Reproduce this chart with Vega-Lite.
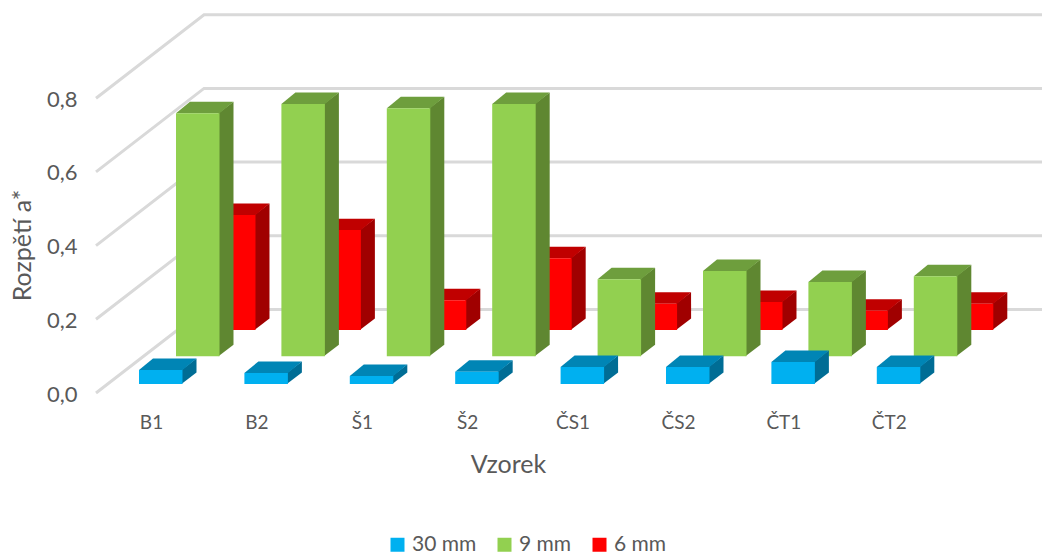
{
"$schema":"https://vega.github.io/schema/vega-lite/v6.json",
"width":946,"height":380,"autosize":"none",
"padding":{"left":96,"top":13,"right":0,"bottom":161},
"background":"white",
"config":{"font":"Lato","view":{"stroke":null},"axis":{"grid":false,"domain":false,"ticks":false}},
"resolve":{"axis":{"x":"independent","y":"independent"}},
"datasets":{
"mereni":[
{"vzorek":"B1","rada":"30 mm","hodnota":0.038},{"vzorek":"B2","rada":"30 mm","hodnota":0.030},{"vzorek":"Š1","rada":"30 mm","hodnota":0.022},{"vzorek":"Š2","rada":"30 mm","hodnota":0.033},{"vzorek":"ČS1","rada":"30 mm","hodnota":0.046},{"vzorek":"ČS2","rada":"30 mm","hodnota":0.046},{"vzorek":"ČT1","rada":"30 mm","hodnota":0.060},{"vzorek":"ČT2","rada":"30 mm","hodnota":0.046},
{"vzorek":"B1","rada":"9 mm","hodnota":0.659},{"vzorek":"B2","rada":"9 mm","hodnota":0.684},{"vzorek":"Š1","rada":"9 mm","hodnota":0.673},{"vzorek":"Š2","rada":"9 mm","hodnota":0.684},{"vzorek":"ČS1","rada":"9 mm","hodnota":0.209},{"vzorek":"ČS2","rada":"9 mm","hodnota":0.231},{"vzorek":"ČT1","rada":"9 mm","hodnota":0.201},{"vzorek":"ČT2","rada":"9 mm","hodnota":0.217},
{"vzorek":"B1","rada":"6 mm","hodnota":0.312},{"vzorek":"B2","rada":"6 mm","hodnota":0.271},{"vzorek":"Š1","rada":"6 mm","hodnota":0.081},{"vzorek":"Š2","rada":"6 mm","hodnota":0.195},{"vzorek":"ČS1","rada":"6 mm","hodnota":0.071},{"vzorek":"ČS2","rada":"6 mm","hodnota":0.076},{"vzorek":"ČT1","rada":"6 mm","hodnota":0.052},{"vzorek":"ČT2","rada":"6 mm","hodnota":0.071}
],
"mrizka":[{"v":0},{"v":0.2},{"v":0.4},{"v":0.6},{"v":0.8}]
},
"layer":[
{
"data":{"name":"mrizka"},
"transform":[
{"calculate":"[0,1,2]","as":"k"},{"flatten":["k"]},
{"calculate":"[-0.5218,0.503,8.4535][datum.k]","as":"gx"},
{"calculate":"datum.v+(datum.k>0?0.2266:0)","as":"gy"}
],
"mark":{"type":"line","stroke":"#D9D9D9","strokeWidth":3,"clip":false},
"encoding":{
"x":{"field":"gx","type":"quantitative","scale":{"domain":[-0.5218,8.4535],"nice":false,"zero":false},
"axis":{"values":[0,1,2,3,4,5,6,7],"labelExpr":"['B1','B2','Š1','Š2','ČS1','ČS2','ČT1','ČT2'][datum.value]","labelFontSize":19,"labelColor":"#595959","labelPadding":20,"labelFlush":false,"labelOverlap":false,"title":"Vzorek","titleFontSize":25,"titleFontWeight":"normal","titleColor":"#595959","titleX":412,"titleY":71,"titleAnchor":"middle","titleBaseline":"middle"}},
"y":{"field":"gy","type":"quantitative","scale":{"domain":[0,1.0312],"nice":false},
"axis":{"values":[0,0.2,0.4,0.6,0.8],"labelExpr":"replace(format(datum.value,'.1f'),'.',',')","labelFontSize":22,"labelColor":"#595959","labelPadding":19,"labelOffset":1,"title":"Rozpětí a*","titleFontSize":25,"titleFontWeight":"normal","titleColor":"#595959","titleX":-74,"titleY":232,"titleAnchor":"middle","titleBaseline":"middle"}},
"detail":{"field":"v"},
"order":{"field":"k"}
}
},
{
"data":{"name":"mereni"},
"transform":[
{"calculate":"[0,1]","as":"k"},{"flatten":["k"]},
{"calculate":"indexof(['B1','B2','Š1','Š2','ČS1','ČS2','ČT1','ČT2'],datum.vzorek)","as":"i"},
{"calculate":"indexof(['30 mm','9 mm','6 mm'],datum.rada)","as":"s"},
{"calculate":"datum.i+[-0.1139,0.2372,0.5787][datum.s]","as":"l"},
{"calculate":"datum.l+0.4127","as":"r"},
{"calculate":"[0.0244,0.1,0.171][datum.s]","as":"base"},
{"calculate":"datum.base+datum.hodnota","as":"top"},
{"calculate":"datum.r+datum.k*0.1328","as":"sx"},
{"calculate":"datum.k==0?datum.r-0.01:datum.sx","as":"px"},
{"calculate":"datum.top+datum.k*0.0312","as":"sy"},
{"calculate":"datum.base+datum.k*0.0312","as":"sy2"},
{"calculate":"datum.l+datum.k*0.1328","as":"tx"}
],
"layer":[
{"transform":[{"filter":"datum.s==2"}],"layer":[
{"mark":{"type":"area","orient":"vertical","color":"#A00000"},"encoding":{"x":{"field":"px","type":"quantitative","axis":null},"y":{"field":"sy","type":"quantitative","axis":null},"y2":{"field":"sy2"},"detail":{"field":"vzorek"}}},
{"mark":{"type":"area","orient":"horizontal","color":"#C00000"},"encoding":{"y":{"field":"sy","type":"quantitative","axis":null},"x":{"field":"tx","type":"quantitative","axis":null},"x2":{"field":"sx"},"detail":{"field":"vzorek"}}},
{"transform":[{"filter":"datum.k==0"}],"mark":{"type":"rect","color":"#FF0000"},"encoding":{"x":{"field":"l","type":"quantitative","axis":null},"x2":{"field":"r"},"y":{"field":"base","type":"quantitative","axis":null},"y2":{"field":"top"}}}
]},
{"transform":[{"filter":"datum.s==1"}],"layer":[
{"mark":{"type":"area","orient":"vertical","color":"#5F8731"},"encoding":{"x":{"field":"px","type":"quantitative","axis":null},"y":{"field":"sy","type":"quantitative","axis":null},"y2":{"field":"sy2"},"detail":{"field":"vzorek"}}},
{"mark":{"type":"area","orient":"horizontal","color":"#6E9E3D"},"encoding":{"y":{"field":"sy","type":"quantitative","axis":null},"x":{"field":"tx","type":"quantitative","axis":null},"x2":{"field":"sx"},"detail":{"field":"vzorek"}}},
{"transform":[{"filter":"datum.k==0"}],"mark":{"type":"rect","color":"#92D050"},"encoding":{"x":{"field":"l","type":"quantitative","axis":null},"x2":{"field":"r"},"y":{"field":"base","type":"quantitative","axis":null},"y2":{"field":"top"}}}
]},
{"transform":[{"filter":"datum.s==0"}],"layer":[
{"mark":{"type":"area","orient":"vertical","color":"#006D95"},"encoding":{"x":{"field":"px","type":"quantitative","axis":null},"y":{"field":"sy","type":"quantitative","axis":null},"y2":{"field":"sy2"},"detail":{"field":"vzorek"}}},
{"mark":{"type":"area","orient":"horizontal","color":"#0085B5"},"encoding":{"y":{"field":"sy","type":"quantitative","axis":null},"x":{"field":"tx","type":"quantitative","axis":null},"x2":{"field":"sx"},"detail":{"field":"vzorek"}}},
{"transform":[{"filter":"datum.k==0"}],"mark":{"type":"rect","color":"#00B0F0"},"encoding":{"x":{"field":"l","type":"quantitative","axis":null},"x2":{"field":"r"},"y":{"field":"base","type":"quantitative","axis":null},"y2":{"field":"top"}}}
]},
{"transform":[{"filter":"datum.k==0 && datum.i<0"}],
"mark":{"type":"rect"},
"encoding":{
"x":{"field":"l","type":"quantitative","axis":null},"x2":{"field":"r"},
"y":{"field":"base","type":"quantitative","axis":null},"y2":{"field":"top"},
"color":{"field":"rada","type":"nominal","sort":null,"scale":{"domain":["30 mm","9 mm","6 mm"],"range":["#00B0F0","#92D050","#FF0000"]},
"legend":{"title":null,"orient":"none","legendX":291,"legendY":521,"direction":"horizontal","columns":3,"symbolType":"square","symbolSize":196,"symbolStrokeWidth":0,"labelFontSize":21,"labelColor":"#595959","labelOffset":4,"columnPadding":17,"padding":0}}
}}
]
}
]
}
